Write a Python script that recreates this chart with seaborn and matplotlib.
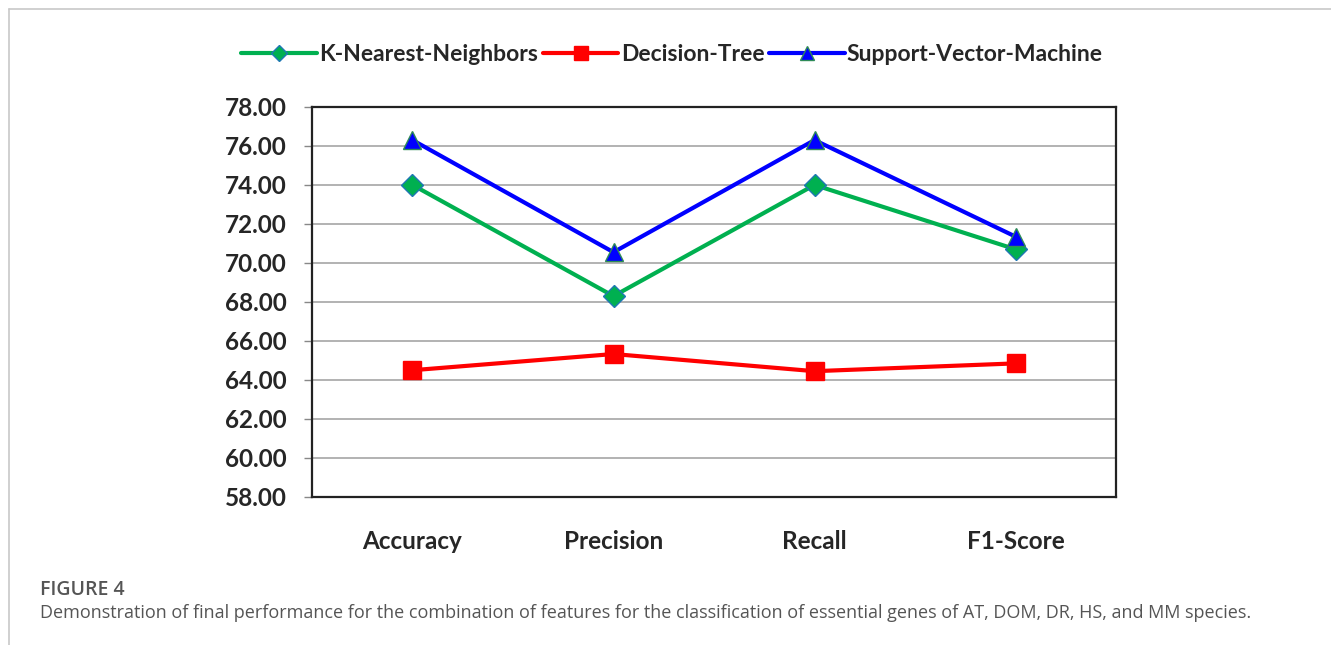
import matplotlib
matplotlib.use("Agg")
import matplotlib.pyplot as plt
from matplotlib.lines import Line2D
import pandas as pd
import seaborn as sns

# ── data ──────────────────────────────────────────────────────────────────────
metrics = ["Accuracy", "Precision", "Recall", "F1-Score"]
knn = [74.00, 68.30, 74.00, 70.70]
dtree = [64.50, 65.33, 64.45, 64.85]
svm = [76.30, 70.55, 76.30, 71.35]
models = ["K-Nearest-Neighbors", "Decision-Tree", "Support-Vector-Machine"]
yticks = [58, 60, 62, 64, 66, 68, 70, 72, 74, 76, 78]

caption_head = "FIGURE 4"
caption_body = ("Demonstration of final performance for the combination of features for the "
                "classification of essential genes of AT, DOM, DR, HS, and MM species.")

df = pd.DataFrame({
    "metric": metrics * 3,
    "value": knn + dtree + svm,
    "model": [models[0]] * 4 + [models[1]] * 4 + [models[2]] * 4,
})

palette = {models[0]: "#00B050", models[1]: "#FF0000", models[2]: "#0000FF"}
edges = {models[0]: "#1f77b4", models[1]: "#FF0000", models[2]: "#2E8B57"}
marker_map = {models[0]: "D", models[1]: "s", models[2]: "^"}
msize = {models[0]: 11, models[1]: 13, models[2]: 13}

sns.set_style("white")
plt.rcParams["font.family"] = ["Lato", "DejaVu Sans"]

fig = plt.figure(figsize=(13.31, 6.45), dpi=100)
ax = fig.add_axes([0.2344, 0.2295, 0.6041, 0.6047])

sns.lineplot(data=df, x="metric", y="value", hue="model", style="model",
             palette=palette, markers=marker_map, dashes=False,
             linewidth=3, ax=ax, legend=False, sort=False)

# marker size / edge per series
for line, m in zip(ax.get_lines(), models):
    line.set_markersize(msize[m])
    line.set_markeredgewidth(1)
    line.set_markeredgecolor(edges[m])

ax.set_xlim(-0.5, 3.5)
ax.set_ylim(58, 78)
ax.set_yticks(yticks)
ax.set_yticklabels([f"{v:.2f}" for v in yticks], fontsize=17.5, fontweight="bold")
ax.set_xticks(range(4))
ax.set_xticklabels(metrics, fontsize=17.5, fontweight="bold")
ax.set_xticks([-0.5, 0.5, 1.5, 2.5, 3.5], minor=True)
ax.tick_params(axis="x", which="major", length=0, pad=24)
ax.tick_params(axis="x", which="minor", length=7, width=1, color="#888888", direction="out")
ax.tick_params(axis="y", length=6, width=1, color="#888888", direction="out", left=True, pad=12)
ax.set_xlabel("")
ax.set_ylabel("")
ax.grid(axis="y", color="#A6A6A6", linewidth=1.2)
ax.set_axisbelow(True)
for s in ax.spines.values():
    s.set_visible(True)
    s.set_color("#222222")
    s.set_linewidth(1.6)

handles = [Line2D([0], [0], color=palette[m], lw=3, marker=marker_map[m],
                  markersize=msize[m] - 3, markeredgecolor=edges[m]) for m in models]
fig.legend(handles, models, loc="center", bbox_to_anchor=(0.505, 0.916), ncol=3,
           frameon=False, prop={"size": 16.5, "weight": "bold"},
           handlelength=3.3, handletextpad=0.1, columnspacing=0.2)

# outer frame (top and left border)
fig.add_artist(Line2D([9 / 1331, 1.0], [1 - 9 / 645, 1 - 9 / 645], color="#C8C8C8", lw=1.2))
fig.add_artist(Line2D([9 / 1331, 9 / 1331], [0, 1 - 9 / 645], color="#C8C8C8", lw=1.2))

fig.text(40 / 1331, 1 - 590 / 645, caption_head, fontsize=14, color="#555555",
         va="center", ha="left", fontweight="semibold", family=["Open Sans", "DejaVu Sans"])
fig.text(40 / 1331, 1 - 613 / 645, caption_body, fontsize=13, color="#555555",
         va="center", ha="left", family=["Open Sans", "DejaVu Sans"])

fig.savefig("out.png", dpi=100)
